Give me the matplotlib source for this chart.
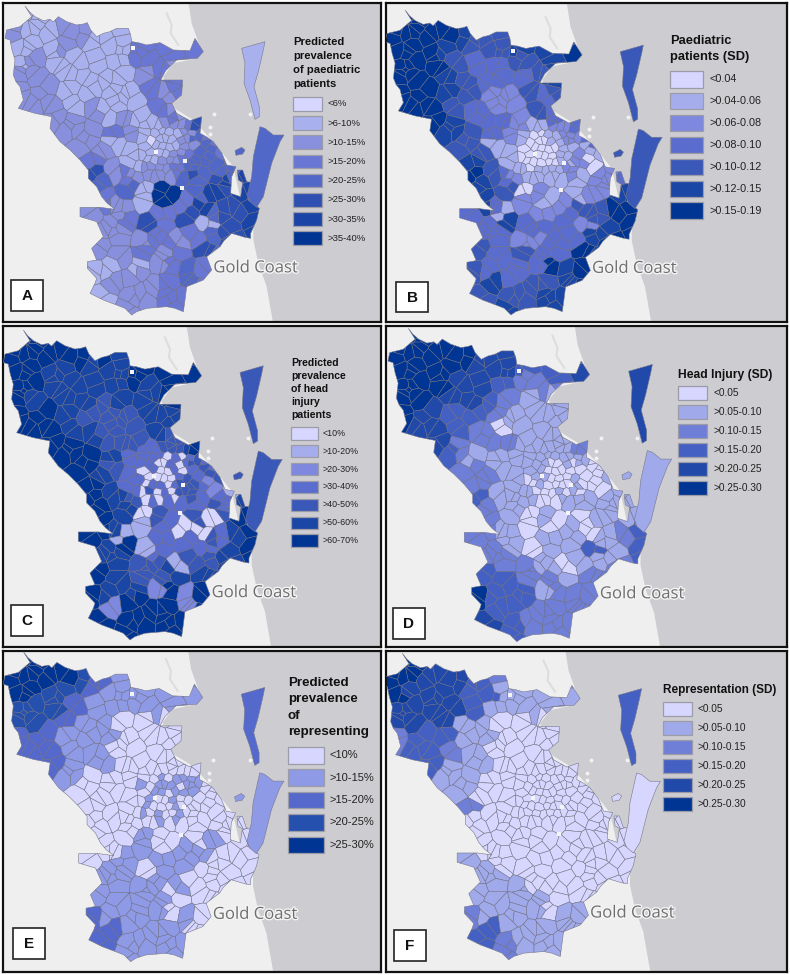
import numpy as np
import matplotlib
matplotlib.use("Agg")
import matplotlib.pyplot as plt
from matplotlib.collections import PolyCollection
from matplotlib.patches import Polygon, Rectangle
import matplotlib.patheffects as pe

plt.rcParams['font.family'] = ['Liberation Sans', 'DejaVu Sans']

# map geometry, in one shared map unit
OUTLINE = [(75,18),(88,35),(105,50),(130,62),(150,58),(160,66),(175,50),(200,65),(230,75),(250,72),(262,68),(272,90),(290,110),(310,100),
           (330,95),(350,85),(385,85),(392,105),(395,125),(415,128),(440,135),(480,128),(520,150),(570,152),(585,115),(610,155),
           (592,175),(530,180),(497,212),(482,240),(548,240),(545,285),(515,310),(530,340),(570,362),(605,350),(600,400),
           (622,412),(640,425),(665,458),(680,495),(708,500),(695,530),(692,580),(722,590),(728,548),(715,540),(712,510),
           (728,510),(740,545),(760,548),(745,600),(778,625),(770,660),(752,700),(752,715),(735,712),(695,700),(672,722),(660,740),
           (620,770),(635,810),(610,840),(560,860),(555,900),(550,935),(525,925),(500,920),(440,925),(410,935),(395,945),(375,925),
           (350,915),(310,900),(270,880),(285,850),(290,835),(262,805),(262,785),(290,780),(275,745),(310,710),(290,665),
           (240,650),(240,622),(300,622),(345,628),(322,610),(305,590),(290,560),(265,535),(265,510),(240,480),(210,450),(180,425),
           (150,385),(155,350),(105,340),(55,325),(70,300),(60,260),(48,245),(40,225),(45,180),(36,150),(30,120),(15,115),(20,90),
           (60,80),(95,50)]
MORETON = [(725,145),(795,125),(790,150),(775,215),(762,260),(778,320),(778,350),(765,358),(750,300),(732,250),(735,190)]
STRADBROKE = [(780,380),(795,385),(820,405),(852,405),(840,425),(815,490),(790,590),(770,622),(750,605),(742,585),(755,530),(760,470)]
SMALL_ISLE = [(705,452),(725,442),(735,450),(728,462),(708,466)]
SEA = [(555,-60),(575,70),(600,140),(590,175),(520,190),(490,230),(515,320),(580,360),(640,425),(700,500),(720,590),(760,640),
       (760,720),(775,790),(800,860),(835,1060),(1500,1060),(1500,-60)]
HOLES = [(400,143),(545,565),(468,455),(555,482)]
SPECKS = [(642,342),(630,380),(630,402),(750,342)]

# one seed per statistical area: (row y, seed xs)
CELL_ROWS = [
    (45, [85,135]),
    (90, [40,90,145,200,255,310,365]),
    (135, [45,100,155,210,265,325,380,440,500,560,590]),
    (180, [55,110,165,225,290,355,410,460,515]),
    (225, [60,120,185,250,315,380,435,490,530]),
    (270, [70,135,200,265,330,390,445,500,530]),
    (315, [90,165,230,295,355,410,465,515]),
    (355, [165,230,295,355,405,540,590]),
    (400, [200,265,335,395,590,630]),
    (445, [240,300,360,405,590,635,675]),
    (490, [280,335,385,595,640,690]),
    (530, [275,320,370,410,600,650,680,720]),
    (575, [325,375,430,480,530,580,625,675,735]),
    (620, [265,330,385,425,490,550,610,665,720,755]),
    (665, [325,385,440,500,555,600,650,700,750]),
    (710, [305,360,420,480,520,580,640,690]),
    (755, [300,365,430,490,545,600,645]),
    (800, [285,345,405,465,520,575,615]),
    (845, [330,395,455,510,565,605]),
    (890, [310,385,445,505,545]),
    (930, [385,530]),
    # the small inner city areas
    (375, [432,454,476,498,520,542,564]),
    (396, [442,464,486,508,530,552,574]),
    (417, [432,454,476,498,520,542,564]),
    (438, [442,464,486,508,530,552,574]),
    (459, [432,454,476,498,520,542,564]),
    (480, [442,464,486,508,530,552,574]),
    (501, [432,454,476,498,520,542,564]),
    (522, [442,464,486,508,530,552,574]),
]
OUTER_ROWS = 21

# legend class of every area per panel, one string per row of CELL_ROWS
CLASS_A = ["11","2112211","11121113323","121111332","221111233","221111323","22111132","2222135","223243","2211443",
           "321444","54324466","341774656","2221336556","235351456","22232345","2232354","1112343","222343","12233","23",
           "1112223","1111122","1011122","1111122","1111223","1122234","2222334","2222345"]
CLASS_B = ["66","6666544","66654445556","666433445","665433345","665422434","66432243","6533233","543223","4411211",
           "541202","65321223","540211225","3312224466","353332456","33223356","4343365","4333656","534456","44455","55",
           "2111222","1001122","1000112","0000011","0000011","0000011","1011112","1111112"]
CLASS_C = ["66","6666665","66555556666","665555656","655545566","665444555","66544454","6654446","665343","6543344",
           "653421","66543335","650434046","6511300356","561333456","55441445","6544555","6552626","266626","66666","66",
           "3334445","3330303","3300303","0300303","3000034","0330344","0403044","0303034"]
CLASS_D = ["55","5555544","55554443334","555443222","554432111","543321111","44320111","4222112","311110","2211001",
           "211001","32111111","210100111","2110110123","210113113","22210112","3322122","5331222","332222","43222","32",
           "1111112","1111111","1110010","1100000","0110001","0100001","1000101","1000111"]
CLASS_E = ["44","4444321","44332111111","333211111","332110000","221110000","22110000","2110000","100010","0000000",
           "000000","00000000","001000100","0011111000","110110000","11111000","1111000","2111010","211100","21111","11",
           "0000000","0010111","1011101","0110111","0100100","1000100","1010010","0010100"]
CLASS_F = ["55","5544432","54443311111","444431111","444110000","233110000","33210000","3110000","110000","1000000",
           "200000","00000000","000000000","1000000000","100000000","11100000","1111000","2111011","311111","32111","21",
           "0000000","0000000","0000000","0000000","0000000","0000000","0000000","0000000"]
# Moreton, Stradbroke, small island
ISLAND_CLASS = {"A": [1,4,4], "B": [4,4,4], "C": [4,4,4], "D": [4,1,1], "E": [2,1,1], "F": [3,0,0]}

TITLE_A = ["Predicted", "prevalence", "of paediatric", "patients"]
TITLE_B = ["Paediatric", "patients (SD)"]
TITLE_C = ["Predicted", "prevalence", "of head", "injury", "patients"]
TITLE_D = ["Head Injury (SD)"]
TITLE_E = ["Predicted", "prevalence", "of", "representing"]
TITLE_F = ["Representation (SD)"]
LABELS_A = ["<6%", ">6-10%", ">10-15%", ">15-20%", ">20-25%", ">25-30%", ">30-35%", ">35-40%"]
LABELS_B = ["<0.04", ">0.04-0.06", ">0.06-0.08", ">0.08-0.10", ">0.10-0.12", ">0.12-0.15", ">0.15-0.19"]
LABELS_C = ["<10%", ">10-20%", ">20-30%", ">30-40%", ">40-50%", ">50-60%", ">60-70%"]
LABELS_D = ["<0.05", ">0.05-0.10", ">0.10-0.15", ">0.15-0.20", ">0.20-0.25", ">0.25-0.30"]
LABELS_E = ["<10%", ">10-15%", ">15-20%", ">20-25%", ">25-30%"]
LABELS_F = LABELS_D

RAMPS = {
    8: ["#D6D6FF","#A8B0EE","#8890DE","#6A76D4","#5268C8","#2D50B2","#1A44A6","#003594"],
    7: ["#D6D6FF","#A6ADEC","#7D88DE","#5A6CCE","#3A58B8","#1A46A6","#003594"],
    6: ["#D6D6FF","#A0A9EA","#6F7FD8","#4460C2","#2049AA","#003594"],
    5: ["#D6D6FF","#8E9AE6","#5568CC","#2650AE","#003594"],
}

# panel frame in pixels, then how the map sits in it (x offset, y offset, x scale, y scale)
PANELS = {
    "A": dict(rect=(3,3,381,322), map=(0,0,1.0,1.0), classes=CLASS_A, title=TITLE_A, labels=LABELS_A,
              title_xy=(293,42), title_step=14, title_size=8.1, sw=(293,97,29,13.7), sw_step=19.2, lab_x=328, lab_size=6.8,
              box=(11,280,32,31)),
    "B": dict(rect=(386,3,787,322), map=(380.2,4,0.993,0.987), classes=CLASS_B, title=TITLE_B, labels=LABELS_B,
              title_xy=(670,41), title_step=16, title_size=9.3, sw=(670,71,33,16.5), sw_step=21.9, lab_x=709, lab_size=7.8,
              box=(396,282,32,30)),
    "C": dict(rect=(3,326,381,647), map=(-1.7,324,1.0,1.003), classes=CLASS_C, title=TITLE_C, labels=LABELS_C,
              title_xy=(291,363), title_step=13, title_size=7.6, sw=(291,427,27,12.5), sw_step=17.9, lab_x=323, lab_size=6.4,
              box=(11,605,32,31)),
    "D": dict(rect=(386,326,787,647), map=(382.9,322.2,1.017,1.014), classes=CLASS_D, title=TITLE_D, labels=LABELS_D,
              title_xy=(678,375), title_step=14, title_size=8.7, sw=(678,386,29,14.3), sw_step=19, lab_x=713, lab_size=7.3,
              box=(393,608,32,31)),
    "E": dict(rect=(3,651,381,972), map=(-1.8,645.7,1.006,1.003), classes=CLASS_E, title=TITLE_E, labels=LABELS_E,
              title_xy=(288,683), title_step=16.4, title_size=9.6, sw=(288,747,36,16.5), sw_step=22.4, lab_x=330, lab_size=8,
              box=(13,928,32,31)),
    "F": dict(rect=(386,651,787,972), map=(377.4,647.3,0.997,0.992), classes=CLASS_F, title=TITLE_F, labels=LABELS_F,
              title_xy=(663,690), title_step=14, title_size=8.5, sw=(663,702,29,14), sw_step=19, lab_x=698, lab_size=7.3,
              box=(394,930,32,31)),
}

# offsets that break up the regular rows of seeds, and split outer areas in two
NUDGE_X = [7, -9, 3, 12, -5, -13, 9, 1, -8, 14, -3]
NUDGE_Y = [-11, 6, 13, -4, 9, -14, 2, 11, -8, 5, -12, 15, -2]
SPLIT_X = [16, -10, 5, -18, 12, 20, -6, -15, 9]
SPLIT_Y = [8, 17, -16, 4, -12, 15, 19, -9, -18, 6, 13]


def clip_half(poly, p, q):
    # keep the part of poly closer to p than to q
    mid = (p + q) / 2
    n = q - p
    out = []
    for i in range(len(poly)):
        a, b = poly[i], poly[(i + 1) % len(poly)]
        da, db = np.dot(a - mid, n), np.dot(b - mid, n)
        if da <= 0:
            out.append(a)
        if da * db < 0:
            out.append(a + (b - a) * da / (da - db))
    return out


def build_cells(seeds):
    box = [np.array(c, float) for c in [(-50,-50),(950,-50),(950,1050),(-50,1050)]]
    cells = []
    for i, p in enumerate(seeds):
        poly = box
        for j, q in enumerate(seeds):
            if i != j and np.hypot(*(p - q)) < 300:
                poly = clip_half(poly, p, q)
        cells.append(np.array(poly))
    return cells


# seed list, plus which legend entry (area number) each seed takes its class from
seed_pts = []
seed_area = []
area = 0
for r, (y, xs) in enumerate(CELL_ROWS):
    for x in xs:
        k = area
        if r < OUTER_ROWS:
            px, py = x + NUDGE_X[k % 11], y + NUDGE_Y[k % 13]
            seed_pts.append((px, py))
            seed_area.append(area)
            seed_pts.append((px + SPLIT_X[k % 9] * 1.3, py + SPLIT_Y[k % 11] * 1.3))
            seed_area.append(area)
        else:
            seed_pts.append((x + NUDGE_X[k % 11] * 0.45, y + NUDGE_Y[k % 13] * 0.4))
            seed_area.append(area)
        area += 1

seeds = np.array(seed_pts, float)
cells = build_cells(seeds)

W, H = 790, 975
fig = plt.figure(figsize=(W / 100, H / 100), dpi=100, facecolor="white")

for name, p in PANELS.items():
    x0, y0, x1, y1 = p["rect"]
    ox, oy, sx, sy = p["map"]
    ax = fig.add_axes([x0 / W, 1 - y1 / H, (x1 - x0) / W, (y1 - y0) / H])
    ax.set_xlim((x0 - ox) * 3 / sx, (x1 - ox) * 3 / sx)
    ax.set_ylim((y1 - oy) * 3 / sy, (y0 - oy) * 3 / sy)
    ax.set_facecolor("#EFEFEF")
    ax.set_xticks([])
    ax.set_yticks([])
    for s in ax.spines.values():
        s.set_linewidth(1.6)
        s.set_color("#111111")

    ax.add_patch(Polygon(SEA, closed=True, fc="#CDCDD1", ec="none", zorder=1))
    ax.plot([500, 515, 512, 535], [40, 75, 100, 135], color="#DDDDDD", lw=1.5, zorder=1.5)
    ax.scatter(*zip(*SPECKS), s=8, color="#F2F2F2", lw=0, zorder=1.5)

    ramp = RAMPS[len(p["labels"])]
    classes = [int(c) for c in "".join(p["classes"])]
    assert len(classes) == area, name
    faces = [ramp[classes[a]] for a in seed_area]

    land = Polygon(OUTLINE, closed=True, fc="none", ec="#77778A", lw=0.4, zorder=3)
    ax.add_patch(land)
    pc = PolyCollection(cells, facecolors=faces, edgecolors="#6C6C7E", linewidths=0.35, zorder=2)
    ax.add_collection(pc)
    pc.set_clip_path(land)

    ax.scatter(*zip(*HOLES), s=5, marker="s", color="#F4F4F4", lw=0, zorder=4)
    for shape, c in zip([MORETON, STRADBROKE, SMALL_ISLE], ISLAND_CLASS[name]):
        ax.add_patch(Polygon(shape, closed=True, fc=ramp[c], ec="#77778A", lw=0.4, zorder=3))

    ax.text(640, 805, "Gold Coast", fontsize=12, family="Open Sans", color="#6E6E6E", va="center", zorder=5,
            path_effects=[pe.withStroke(linewidth=2, foreground="#F4F4F4")])

# legends and panel letters, in pixels on top of the maps
top = fig.add_axes([0, 0, 1, 1], zorder=10)
top.set_xlim(0, W)
top.set_ylim(H, 0)
top.axis("off")

for name, p in PANELS.items():
    ramp = RAMPS[len(p["labels"])]
    tx, ty = p["title_xy"]
    for i, line in enumerate(p["title"]):
        top.text(tx, ty + i * p["title_step"], line, fontsize=p["title_size"], fontweight="bold", color="#111111", va="center")
    sx, sy, sw, sh = p["sw"]
    for i, lab in enumerate(p["labels"]):
        yy = sy + i * p["sw_step"]
        top.add_patch(Rectangle((sx, yy), sw, sh, fc=ramp[i], ec="#9C9CA8", lw=0.9))
        top.text(p["lab_x"], yy + sh / 2, lab, fontsize=p["lab_size"], color="#222222", va="center")
    bx, by, bw, bh = p["box"]
    top.add_patch(Rectangle((bx, by), bw, bh, fc="white", ec="#222222", lw=1.2))
    top.text(bx + bw / 2, by + bh / 2 + 0.5, name, fontsize=11, fontweight="bold", color="#111111", ha="center", va="center")

fig.savefig("out.png", dpi=100)
